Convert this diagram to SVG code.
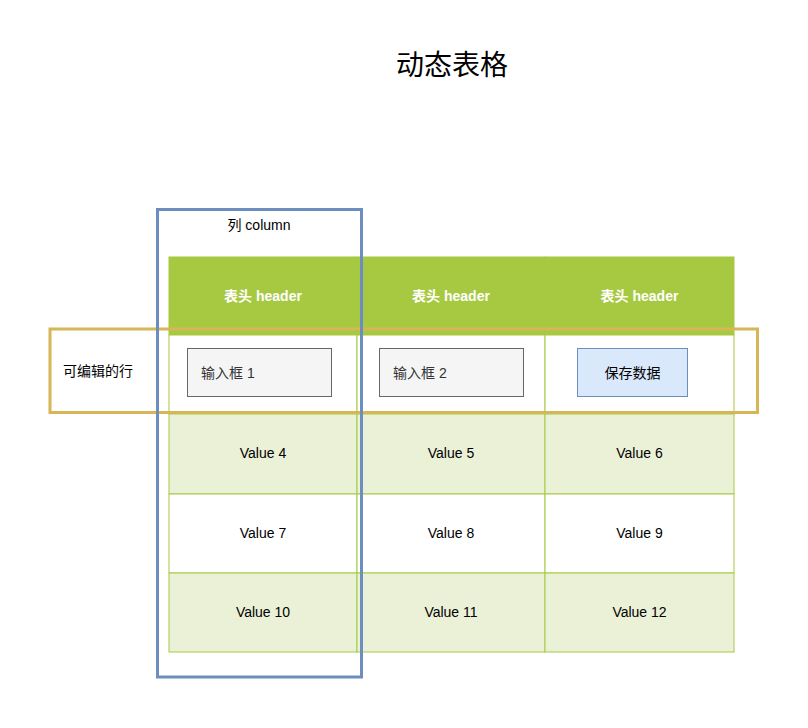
<svg xmlns="http://www.w3.org/2000/svg" width="808" height="728" viewBox="0 0 808 728">
<style>
.t{font-family:"Liberation Sans","Noto Sans CJK SC",Arial,sans-serif;font-size:14px;fill:#000;text-anchor:middle;dominant-baseline:central}
.h{fill:#ffffff;font-weight:bold}
.cell{stroke:#a7c942;stroke-width:1}
.hdr{fill:#a7c942}
.odd{fill:#ffffff}
.even{fill:#eaf1d7}
.inp{fill:#f5f5f5;stroke:#666666;stroke-width:1}
.btn{fill:#dae8fc;stroke:#6c8ebf;stroke-width:1}
</style>
<rect width="808" height="728" fill="#ffffff"/>
<text id="title" class="t" x="452" y="65" style="font-size:28px">动态表格</text>
<g id="table">
  <g id="header-row">
    <rect class="cell hdr" x="169" y="257" width="188" height="78"/>
    <rect class="cell hdr" x="357" y="257" width="188" height="78"/>
    <rect class="cell hdr" x="545" y="257" width="189" height="78"/>
    <text class="t h" x="263" y="296">表头 header</text>
    <text class="t h" x="451" y="296">表头 header</text>
    <text class="t h" x="639.5" y="296">表头 header</text>
  </g>
  <g id="row-edit">
    <rect class="cell odd" x="169" y="335" width="188" height="79"/>
    <rect class="cell odd" x="357" y="335" width="188" height="79"/>
    <rect class="cell odd" x="545" y="335" width="189" height="79"/>
  </g>
  <g id="row-2">
    <rect class="cell even" x="169" y="414" width="188" height="80"/>
    <rect class="cell even" x="357" y="414" width="188" height="80"/>
    <rect class="cell even" x="545" y="414" width="189" height="80"/>
    <text class="t" x="263" y="453">Value 4</text>
    <text class="t" x="451" y="453">Value 5</text>
    <text class="t" x="639.5" y="453">Value 6</text>
  </g>
  <g id="row-3">
    <rect class="cell odd" x="169" y="494" width="188" height="79"/>
    <rect class="cell odd" x="357" y="494" width="188" height="79"/>
    <rect class="cell odd" x="545" y="494" width="189" height="79"/>
    <text class="t" x="263" y="533">Value 7</text>
    <text class="t" x="451" y="533">Value 8</text>
    <text class="t" x="639.5" y="533">Value 9</text>
  </g>
  <g id="row-4">
    <rect class="cell even" x="169" y="573" width="188" height="79"/>
    <rect class="cell even" x="357" y="573" width="188" height="79"/>
    <rect class="cell even" x="545" y="573" width="189" height="79"/>
    <text class="t" x="263" y="612">Value 10</text>
    <text class="t" x="451" y="612">Value 11</text>
    <text class="t" x="639.5" y="612">Value 12</text>
  </g>
</g>
<g id="input1">
  <rect class="inp" x="187.5" y="348.5" width="144" height="48"/>
  <text class="t" x="201" y="372.5" style="text-anchor:start;fill:#333333">输入框 1</text>
</g>
<g id="input2">
  <rect class="inp" x="379.5" y="348.5" width="144" height="48"/>
  <text class="t" x="393" y="372.5" style="text-anchor:start;fill:#333333">输入框 2</text>
</g>
<g id="save-button">
  <rect class="btn" x="577.5" y="348.5" width="110" height="48"/>
  <text class="t" x="632.5" y="372.5">保存数据</text>
</g>
<g id="editable-row">
  <rect x="50" y="329" width="707.5" height="83.5" fill="none" stroke="#d6b656" stroke-width="3"/>
  <text class="t" x="98" y="371">可编辑的行</text>
</g>
<g id="column">
  <rect x="157.5" y="209.5" width="204" height="467.5" fill="none" stroke="#6c8ebf" stroke-width="3"/>
  <text class="t" x="259" y="225">列 column</text>
</g>
<g id="connectors"></g>
</svg>
